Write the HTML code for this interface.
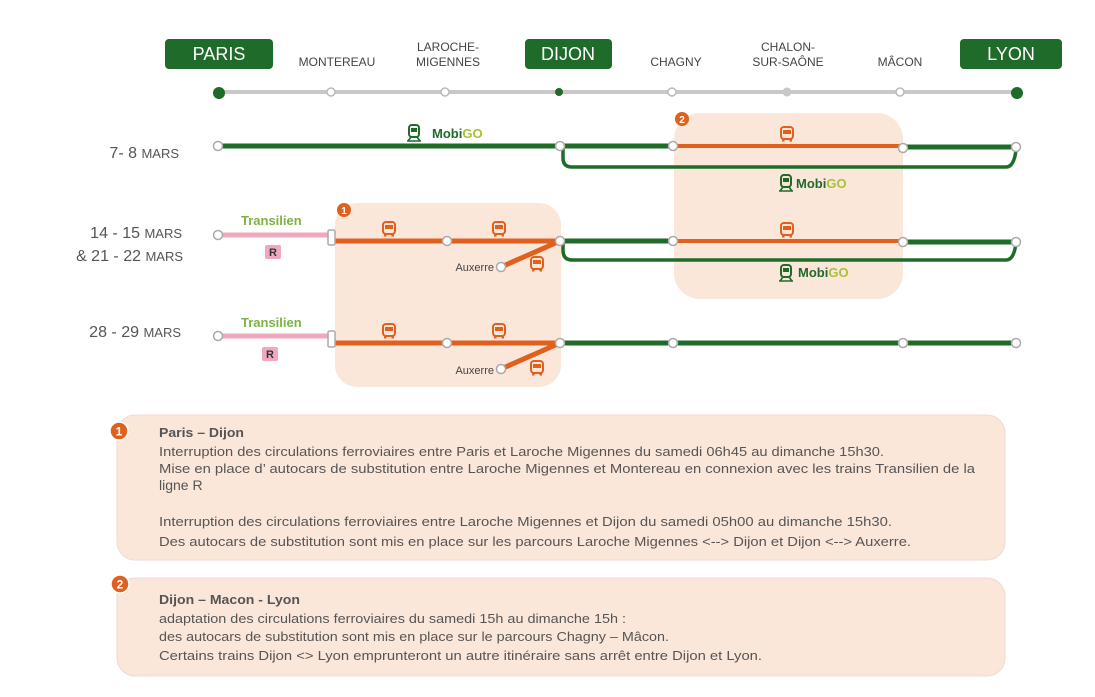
<!DOCTYPE html>
<html><head><meta charset="utf-8"><style>
html,body{margin:0;padding:0;background:#fff;}
svg{display:block;}
text{font-family:"Liberation Sans",sans-serif;}
</style></head><body>
<svg width="1095" height="697" viewBox="0 0 1095 697" xmlns="http://www.w3.org/2000/svg">
<defs>
<g id="bus"><rect x="-6" y="-7" width="12" height="12" rx="3" fill="none" stroke="#e0601e" stroke-width="2"/><rect x="-4" y="-4" width="8" height="4" fill="#e0601e"/><rect x="-5" y="5" width="2.5" height="2.5" fill="#e0601e"/><rect x="2.5" y="5" width="2.5" height="2.5" fill="#e0601e"/></g>
<g id="train"><rect x="-5" y="-8" width="10" height="12" rx="3" fill="none" stroke="#1f6b2a" stroke-width="2"/><rect x="-3" y="-5" width="6" height="4" fill="#1f6b2a"/><path d="M-6 8 L-3 4 M6 8 L3 4 M-7 8 H7" stroke="#1f6b2a" stroke-width="1.6" fill="none"/></g>
</defs>
<!-- header -->
<rect x="165" y="39" width="108" height="30" rx="4" fill="#1f6b2a"/>
<text x="219" y="60" font-size="18" fill="#fff" text-anchor="middle">PARIS</text>
<rect x="525" y="39" width="87" height="30" rx="4" fill="#1f6b2a"/>
<text x="568" y="60" font-size="18" fill="#fff" text-anchor="middle">DIJON</text>
<rect x="960" y="39" width="102" height="30" rx="4" fill="#1f6b2a"/>
<text x="1011" y="60" font-size="18" fill="#fff" text-anchor="middle">LYON</text>
<g font-size="12" fill="#444" text-anchor="middle">
<text x="337" y="66">MONTEREAU</text>
<text x="448" y="51">LAROCHE-</text><text x="448" y="66">MIGENNES</text>
<text x="676" y="66">CHAGNY</text>
<text x="788" y="51">CHALON-</text><text x="788" y="66">SUR-SAÔNE</text>
<text x="900" y="66">MÂCON</text>
</g>
<line x1="219" y1="92" x2="1017" y2="92" stroke="#c8c8c8" stroke-width="4"/>
<circle cx="219" cy="93" r="6" fill="#1f6b2a"/>
<g fill="#fff" stroke="#bbb" stroke-width="1.5"><circle cx="331" cy="92" r="4"/><circle cx="445" cy="92" r="4"/><circle cx="672" cy="92" r="4"/><circle cx="900" cy="92" r="4"/></g>
<circle cx="787" cy="92" r="4.5" fill="#c8c8c8"/>
<circle cx="559" cy="92" r="4" fill="#1f6b2a"/>
<circle cx="1017" cy="93" r="6" fill="#1f6b2a"/>
<!-- dates -->
<g fill="#555" text-anchor="end">
<text x="179" y="158" font-size="16">7- 8 <tspan font-size="13">MARS</tspan></text>
<text x="182" y="238" font-size="16">14 - 15 <tspan font-size="13">MARS</tspan></text>
<text x="183" y="261" font-size="16">&amp; 21 - 22 <tspan font-size="13">MARS</tspan></text>
<text x="181" y="337" font-size="16">28 - 29 <tspan font-size="13">MARS</tspan></text>
</g>
<!-- zones -->
<rect x="674" y="113" width="229" height="186" rx="26" fill="#fbe6da"/>
<rect x="335" y="203" width="226" height="184" rx="22" fill="#fbe6da"/>
<circle cx="682" cy="119" r="7" fill="#e0601e"/><text x="682" y="123" font-size="10" fill="#fff" text-anchor="middle" font-weight="bold">2</text>
<circle cx="344" cy="210" r="7" fill="#e0601e"/><text x="344" y="214" font-size="10" fill="#fff" text-anchor="middle" font-weight="bold">1</text>
<!-- row1 -->
<path d="M563 148 V158 Q563 167 572 167 H1006 Q1014 167 1016 150" fill="none" stroke="#1f6b2a" stroke-width="3.5"/>
<line x1="218" y1="146" x2="560" y2="146" stroke="#1f6b2a" stroke-width="5"/>
<line x1="560" y1="146" x2="673" y2="146" stroke="#1f6b2a" stroke-width="5"/>
<line x1="673" y1="146" x2="903" y2="146" stroke="#e0601e" stroke-width="4"/>
<line x1="903" y1="147" x2="1016" y2="147" stroke="#1f6b2a" stroke-width="5"/>
<!-- row2 -->
<path d="M563 242 V250 Q563 260 572 260 H1006 Q1014 260 1016 243" fill="none" stroke="#1f6b2a" stroke-width="3.5"/>
<line x1="218" y1="235" x2="331" y2="235" stroke="#f0a8bc" stroke-width="5"/>
<line x1="335" y1="241" x2="560" y2="241" stroke="#e0601e" stroke-width="5"/>
<line x1="560" y1="241" x2="501" y2="267" stroke="#e0601e" stroke-width="5"/>
<line x1="560" y1="241" x2="673" y2="241" stroke="#1f6b2a" stroke-width="5"/>
<line x1="673" y1="241" x2="903" y2="241" stroke="#e0601e" stroke-width="4"/>
<line x1="903" y1="242" x2="1016" y2="242" stroke="#1f6b2a" stroke-width="5"/>
<!-- row3 -->
<line x1="218" y1="336" x2="331" y2="336" stroke="#f0a8bc" stroke-width="5"/>
<line x1="335" y1="343" x2="560" y2="343" stroke="#e0601e" stroke-width="5"/>
<line x1="560" y1="343" x2="501" y2="369" stroke="#e0601e" stroke-width="5"/>
<line x1="560" y1="343" x2="1016" y2="343" stroke="#1f6b2a" stroke-width="5"/>
<rect x="328" y="230" width="7" height="15" rx="1.5" fill="#fff" stroke="#aaa" stroke-width="1.5"/>
<rect x="328" y="331" width="7" height="16" rx="1.5" fill="#fff" stroke="#aaa" stroke-width="1.5"/>
<g fill="#fff" stroke="#aaa" stroke-width="1.5">
<circle cx="218" cy="146" r="4.5"/><circle cx="560" cy="146" r="4.5"/><circle cx="673" cy="146" r="4.5"/><circle cx="903" cy="148" r="4.5"/><circle cx="1016" cy="147" r="4.5"/>
<circle cx="218" cy="235" r="4.5"/><circle cx="447" cy="241" r="4.5"/><circle cx="501" cy="267" r="4.5"/><circle cx="560" cy="241" r="4.5"/><circle cx="673" cy="241" r="4.5"/><circle cx="903" cy="242" r="4.5"/><circle cx="1016" cy="242" r="4.5"/>
<circle cx="218" cy="336" r="4.5"/><circle cx="447" cy="343" r="4.5"/><circle cx="501" cy="369" r="4.5"/><circle cx="560" cy="343" r="4.5"/><circle cx="673" cy="343" r="4.5"/><circle cx="903" cy="343" r="4.5"/><circle cx="1016" cy="343" r="4.5"/>
</g>
<g font-size="11" fill="#444" text-anchor="end"><text x="494" y="271">Auxerre</text><text x="494" y="374">Auxerre</text></g>
<!-- bus icons -->
<use href="#bus" x="787" y="134"/><use href="#bus" x="787" y="230"/>
<use href="#bus" x="389" y="229"/><use href="#bus" x="499" y="229"/><use href="#bus" x="537" y="264"/>
<use href="#bus" x="389" y="331"/><use href="#bus" x="499" y="331"/><use href="#bus" x="537" y="368"/>
<!-- mobigo -->
<use href="#train" x="414" y="133"/>
<text x="432" y="138" font-size="13" font-weight="bold" fill="#1f6b2a">Mobi<tspan fill="#a6c23a">GO</tspan></text>
<use href="#train" x="786" y="183"/>
<text x="796" y="188" font-size="13" font-weight="bold" fill="#1f6b2a">Mobi<tspan fill="#a6c23a">GO</tspan></text>
<use href="#train" x="786" y="273"/>
<text x="798" y="277" font-size="13" font-weight="bold" fill="#1f6b2a">Mobi<tspan fill="#a6c23a">GO</tspan></text>
<!-- transilien -->
<g font-size="13" font-weight="bold" fill="#7cb342">
<text x="241" y="225">Transilien</text><text x="241" y="327">Transilien</text></g>
<rect x="265" y="245" width="16" height="14" rx="2" fill="#f0a8bc"/><text x="273" y="256" font-size="11" font-weight="bold" fill="#333" text-anchor="middle">R</text>
<rect x="262" y="347" width="16" height="14" rx="2" fill="#f0a8bc"/><text x="270" y="358" font-size="11" font-weight="bold" fill="#333" text-anchor="middle">R</text>
<!-- notes -->
<rect x="117" y="415" width="888" height="145" rx="18" fill="#fbe6da" stroke="#eedbd0"/>
<rect x="117" y="578" width="888" height="98" rx="18" fill="#fbe6da" stroke="#eedbd0"/>
<circle cx="119" cy="431" r="9" fill="#e0601e" stroke="#fff" stroke-width="1.5"/><text x="119" y="435.5" font-size="12" fill="#fff" text-anchor="middle" font-weight="bold">1</text>
<circle cx="120" cy="584" r="9" fill="#e0601e" stroke="#fff" stroke-width="1.5"/><text x="120" y="588.5" font-size="12" fill="#fff" text-anchor="middle" font-weight="bold">2</text>
<g font-size="13" fill="#555">
<text x="159" y="437" font-weight="bold" textLength="85" lengthAdjust="spacingAndGlyphs">Paris – Dijon</text>
<text x="159" y="456" textLength="725" lengthAdjust="spacingAndGlyphs">Interruption des circulations ferroviaires entre Paris et Laroche Migennes du samedi 06h45 au dimanche 15h30.</text>
<text x="159" y="473" textLength="816" lengthAdjust="spacingAndGlyphs">Mise en place d’ autocars de substitution entre Laroche Migennes et Montereau en connexion avec les trains Transilien de la</text>
<text x="159" y="490" font-size="14">ligne R</text>
<text x="159" y="526" textLength="733" lengthAdjust="spacingAndGlyphs">Interruption des circulations ferroviaires entre Laroche Migennes et Dijon du samedi 05h00 au dimanche 15h30.</text>
<text x="159" y="546" textLength="752" lengthAdjust="spacingAndGlyphs">Des autocars de substitution sont mis en place sur les parcours Laroche Migennes &lt;--&gt; Dijon et Dijon &lt;--&gt; Auxerre.</text>
<text x="159" y="604" font-weight="bold" textLength="141" lengthAdjust="spacingAndGlyphs">Dijon – Macon - Lyon</text>
<text x="159" y="623" textLength="467" lengthAdjust="spacingAndGlyphs">adaptation des circulations ferroviaires du samedi 15h au dimanche 15h :</text>
<text x="159" y="641" textLength="510" lengthAdjust="spacingAndGlyphs">des autocars de substitution sont mis en place sur le parcours Chagny – Mâcon.</text>
<text x="159" y="660" textLength="603" lengthAdjust="spacingAndGlyphs">Certains trains Dijon &lt;&gt; Lyon emprunteront un autre itinéraire sans arrêt entre Dijon et Lyon.</text>
</g>
</svg>
</body></html>
